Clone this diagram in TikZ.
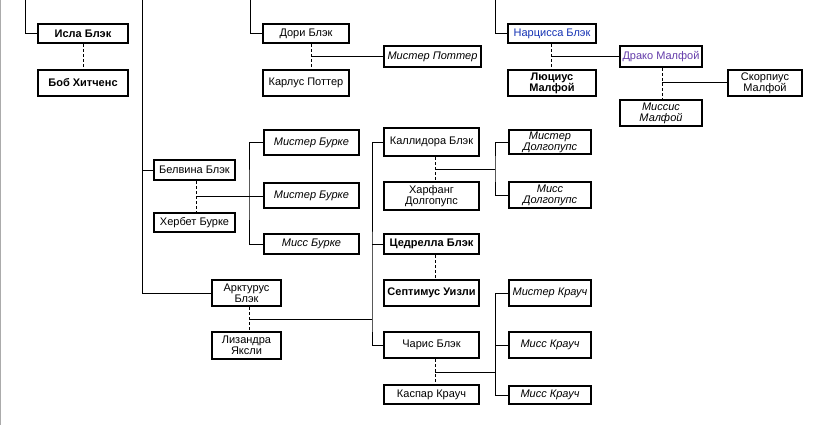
\documentclass[tikz,border=0pt]{standalone}
\usepackage{fontspec}
\setmainfont{Liberation Sans}
\definecolor{narc}{RGB}{20,50,180}
\definecolor{drac}{RGB}{100,60,170}
\begin{document}
\begin{tikzpicture}[x=1pt,y=-1pt,
  box/.style={draw,line width=2pt,fill=white,inner sep=0pt,align=center,
    font=\fontsize{11}{11}\selectfont},
  bb/.style={box,font=\fontsize{11}{11}\selectfont\bfseries},
  ii/.style={box,font=\fontsize{11}{11}\selectfont\itshape},
  ln/.style={line width=1pt},
  dsh/.style={line width=1pt,dash pattern=on 3pt off 2pt}]
\useasboundingbox (0,0) rectangle (837,425);
\fill[white] (0,0) rectangle (837,425);
\draw[black!33,line width=1.3pt] (0.65,0) -- (0.65,425);
% nodes
\node[bb,minimum width=90,minimum height=19] (isla) at (83,33.5) {Исла Блэк};
\node[bb,minimum width=90,minimum height=26] (bob) at (83,83) {Боб Хитченс};
\node[box,minimum width=86,minimum height=19] (dori) at (306,33.5) {Дори Блэк};
\node[box,minimum width=86,minimum height=26] (karlus) at (306,83) {Карлус Поттер};
\node[ii,minimum width=97,minimum height=21] (potter) at (432.5,56.5) {Мистер Поттер};
\node[box,text=narc,minimum width=88,minimum height=19] (narcissa) at (552,33.5) {Нарцисса Блэк};
\node[bb,minimum width=88,minimum height=26] (lucius) at (552,83) {Люциус\\Малфой};
\node[box,text=drac,minimum width=82,minimum height=21] (draco) at (661,56.5) {Драко Малфой};
\node[box,minimum width=74,minimum height=26] (scorpius) at (765,83) {Скорпиус\\Малфой};
\node[ii,minimum width=82,minimum height=26] (missis) at (661,113) {Миссис\\Малфой};
\node[box,minimum width=81,minimum height=20] (belvina) at (194.5,170) {Белвина Блэк};
\node[box,minimum width=81,minimum height=19] (herbert) at (194.5,222.5) {Хербет Бурке};
\node[ii,minimum width=95,minimum height=25] (burke1) at (311.5,142.5) {Мистер Бурке};
\node[ii,minimum width=95,minimum height=25] (burke2) at (311.5,195.5) {Мистер Бурке};
\node[ii,minimum width=95,minimum height=20] (missburke) at (311.5,244) {Мисс Бурке};
\node[box,minimum width=95,minimum height=28] (kallidora) at (431.5,142) {Каллидора Блэк};
\node[box,minimum width=95,minimum height=28] (harfang) at (431.5,196) {Харфанг\\Долгопупс};
\node[ii,minimum width=82,minimum height=24] (mrdolg) at (550,142) {Мистер\\Долгопупс};
\node[ii,minimum width=82,minimum height=26] (missdolg) at (550,195) {Мисс\\Долгопупс};
\node[bb,minimum width=95,minimum height=20] (cedrella) at (431.5,244) {Цедрелла Блэк};
\node[bb,minimum width=95,minimum height=26] (septimus) at (431.5,293) {Септимус Уизли};
\node[box,minimum width=95,minimum height=26] (charis) at (431.5,345) {Чарис Блэк};
\node[box,minimum width=95,minimum height=19] (kaspar) at (431.5,394.5) {Каспар Крауч};
\node[ii,minimum width=82,minimum height=26] (mrcrouch) at (550,293) {Мистер Крауч};
\node[ii,minimum width=82,minimum height=26] (misscrouch1) at (550,345) {Мисс Крауч};
\node[ii,minimum width=82,minimum height=18] (misscrouch2) at (550,395) {Мисс Крауч};
\node[box,minimum width=69,minimum height=26] (arcturus) at (246.5,293) {Арктурус\\Блэк};
\node[box,minimum width=69,minimum height=27] (lysandra) at (246.5,345.5) {Лизандра\\Яксли};
% coordinates
\coordinate (t1) at (25,0);
\coordinate (t0) at (142,0);
\coordinate (t2) at (250,0);
\coordinate (t3) at (495,0);
\coordinate (dj) at (311,57);
\coordinate (nj) at (551,57);
\coordinate (drj) at (662,83);
\coordinate (bj) at (196,196);
\coordinate (bv) at (249,196);
\coordinate (kj) at (435,169);
\coordinate (kv) at (495,169);
\coordinate (aj) at (249,319);
\coordinate (av) at (372,319);
\coordinate (cj) at (435,372);
\coordinate (cv) at (495.5,372);
% solid connectors
\draw[ln] (t1) |- (isla.west);
\draw[ln] (t2) |- (dori.west);
\draw[ln] (t3) |- (narcissa.west);
\draw[ln] (t0) |- (arcturus.west);
\draw[ln] (belvina.west) -- (belvina.west -| t0);
\draw[ln] (dj) -- (dj -| potter.west);
\draw[ln] (nj) -- (nj -| draco.west);
\draw[ln] (drj) -- (drj -| scorpius.west);
\draw[ln] (bj) -- (bj -| burke2.west);
\draw[ln] (burke1.west) -| (bv) |- (missburke.west);
\draw[ln] (kj) -- (kv);
\draw[ln] (mrdolg.west) -| (kv) |- (missdolg.west);
\draw[ln] (aj) -- (av);
\draw[ln] (kallidora.west) -| (av) |- (charis.west);
\draw[ln] (cedrella.west) -- (cedrella.west -| av);
\draw[ln] (cj) -- (cv);
\draw[ln] (mrcrouch.west) -| (cv) |- (misscrouch2.west);
\draw[ln] (misscrouch1.west) -- (misscrouch1.west -| cv);
% dashed connectors
\draw[dsh] (isla.south) -- (bob.north);
\draw[dsh] (dori.south -| dj) -- (karlus.north -| dj);
\draw[dsh] (narcissa.south -| nj) -- (lucius.north -| nj);
\draw[dsh] (draco.south -| drj) -- (missis.north -| drj);
\draw[dsh] (belvina.south -| bj) -- (herbert.north -| bj);
\draw[dsh] (kallidora.south -| kj) -- (harfang.north -| kj);
\draw[dsh] (cedrella.south -| kj) -- (septimus.north -| kj);
\draw[dsh] (charis.south -| cj) -- (kaspar.north -| cj);
\draw[dsh] (arcturus.south -| aj) -- (lysandra.north -| aj);
\end{tikzpicture}
\end{document}
